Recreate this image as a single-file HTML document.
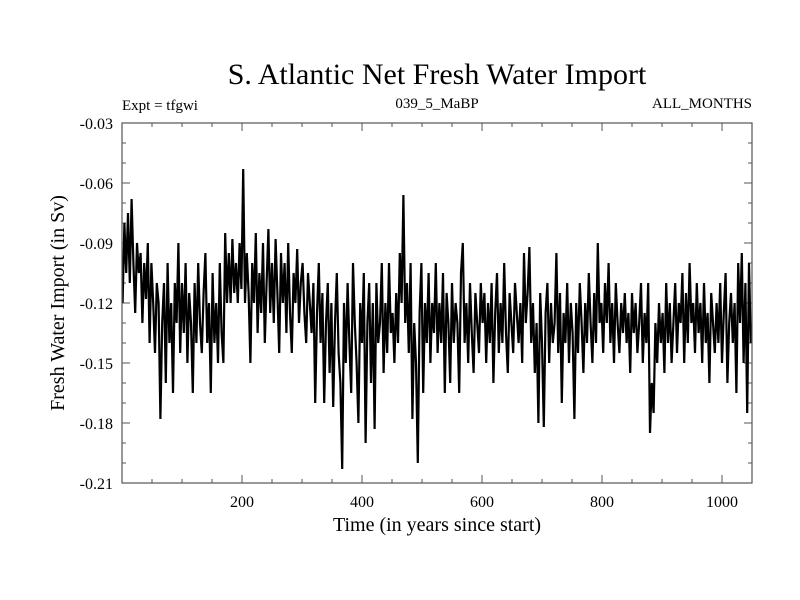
<!DOCTYPE html>
<html><head><meta charset="utf-8"><style>
body{margin:0;background:#fff}
svg{display:block;font-family:"Liberation Serif",serif}
</style></head><body>
<svg id="chart" width="800" height="600">
<text x="437" y="84" font-size="30" text-anchor="middle">S. Atlantic Net Fresh Water Import</text>
<text x="122" y="110" font-size="15">Expt = tfgwi</text>
<text x="437" y="108" font-size="15" text-anchor="middle">039_5_MaBP</text>
<text x="752" y="108" font-size="15" text-anchor="end">ALL_MONTHS</text>
<text x="437" y="531" font-size="20" text-anchor="middle">Time (in years since start)</text>
<text transform="translate(64,303) rotate(-90)" font-size="20" text-anchor="middle">Fresh Water Import (in Sv)</text>
<g id="ticks"></g>
<path id="line" fill="none" stroke="#000" stroke-width="2.2" stroke-linejoin="miter"/>
<rect x="122" y="123" width="630" height="360" fill="none" stroke="#555" stroke-width="1.2"/>
</svg>
<script>
const xTickLabels=[200,400,600,800,1000];
const yTickLabels=[-0.03,-0.06,-0.09,-0.12,-0.15,-0.18,-0.21];
const values=[
-0.12,-0.08,-0.105,-0.075,-0.11,-0.068,-0.1,-0.125,-0.09,-0.105,
-0.095,-0.13,-0.1,-0.118,-0.09,-0.14,-0.1,-0.12,-0.145,-0.11,
-0.12,-0.178,-0.13,-0.11,-0.16,-0.1,-0.14,-0.12,-0.165,-0.11,
-0.13,-0.09,-0.145,-0.11,-0.135,-0.1,-0.15,-0.115,-0.13,-0.165,
-0.11,-0.14,-0.1,-0.13,-0.145,-0.115,-0.095,-0.14,-0.12,-0.165,
-0.105,-0.14,-0.12,-0.15,-0.1,-0.135,-0.15,-0.085,-0.12,-0.095,
-0.12,-0.088,-0.115,-0.1,-0.12,-0.09,-0.113,-0.053,-0.12,-0.095,
-0.115,-0.15,-0.1,-0.12,-0.085,-0.135,-0.105,-0.125,-0.09,-0.14,
-0.11,-0.083,-0.125,-0.1,-0.13,-0.088,-0.115,-0.145,-0.095,-0.12,
-0.1,-0.135,-0.09,-0.125,-0.145,-0.105,-0.12,-0.093,-0.13,-0.11,
-0.1,-0.125,-0.14,-0.105,-0.12,-0.135,-0.11,-0.17,-0.125,-0.1,
-0.14,-0.115,-0.17,-0.13,-0.11,-0.155,-0.12,-0.172,-0.13,-0.105,
-0.145,-0.16,-0.203,-0.12,-0.15,-0.11,-0.14,-0.165,-0.1,-0.13,
-0.15,-0.18,-0.12,-0.14,-0.105,-0.19,-0.13,-0.11,-0.16,-0.12,
-0.183,-0.11,-0.14,-0.13,-0.1,-0.155,-0.12,-0.145,-0.1,-0.135,
-0.125,-0.15,-0.115,-0.14,-0.095,-0.12,-0.066,-0.13,-0.11,-0.145,
-0.1,-0.178,-0.13,-0.15,-0.2,-0.125,-0.1,-0.165,-0.12,-0.14,
-0.105,-0.15,-0.12,-0.135,-0.1,-0.145,-0.12,-0.14,-0.105,-0.165,
-0.115,-0.13,-0.16,-0.11,-0.14,-0.12,-0.13,-0.165,-0.105,-0.09,
-0.14,-0.12,-0.15,-0.11,-0.135,-0.155,-0.115,-0.13,-0.145,-0.11,
-0.13,-0.115,-0.15,-0.12,-0.14,-0.11,-0.16,-0.125,-0.105,-0.145,
-0.12,-0.14,-0.1,-0.135,-0.155,-0.115,-0.13,-0.145,-0.11,-0.125,
-0.14,-0.12,-0.15,-0.095,-0.13,-0.115,-0.092,-0.14,-0.12,-0.155,
-0.13,-0.18,-0.115,-0.14,-0.182,-0.125,-0.11,-0.15,-0.12,-0.14,
-0.13,-0.095,-0.145,-0.115,-0.17,-0.125,-0.14,-0.11,-0.15,-0.12,
-0.135,-0.178,-0.12,-0.145,-0.11,-0.13,-0.155,-0.12,-0.14,-0.105,
-0.13,-0.15,-0.115,-0.14,-0.09,-0.13,-0.12,-0.145,-0.11,-0.13,
-0.1,-0.14,-0.12,-0.15,-0.11,-0.13,-0.145,-0.12,-0.135,-0.115,
-0.14,-0.125,-0.155,-0.115,-0.135,-0.12,-0.145,-0.13,-0.11,-0.15,
-0.125,-0.14,-0.11,-0.185,-0.16,-0.175,-0.13,-0.15,-0.12,-0.14,
-0.125,-0.155,-0.11,-0.14,-0.12,-0.15,-0.13,-0.11,-0.145,-0.12,
-0.13,-0.105,-0.15,-0.115,-0.14,-0.1,-0.13,-0.12,-0.145,-0.11,
-0.135,-0.12,-0.15,-0.11,-0.14,-0.125,-0.16,-0.115,-0.13,-0.145,
-0.12,-0.14,-0.11,-0.15,-0.125,-0.105,-0.16,-0.13,-0.115,-0.14,
-0.12,-0.165,-0.1,-0.13,-0.095,-0.15,-0.11,-0.175,-0.1,-0.14];
const years=values.map((v,i)=>1+i*3);

const X0=122,X1=752,Y0=123,Y1=483,XMIN=0,XMAX=1050,YMIN=-0.21,YMAX=-0.03;
const xs=v=>X0+(v-XMIN)/(XMAX-XMIN)*(X1-X0);
const ys=v=>Y1-(v-YMIN)/(YMAX-YMIN)*(Y1-Y0);
const NS="http://www.w3.org/2000/svg";
const g=document.getElementById('ticks');
function ln(x1,y1,x2,y2,name){const l=document.createElementNS(NS,'line');
l.setAttribute('x1',x1);l.setAttribute('y1',y1);l.setAttribute('x2',x2);l.setAttribute('y2',y2);
l.setAttribute('stroke','#555');l.setAttribute('stroke-width','1');


g.appendChild(l);}
function tx(x,y,s,anchor,name){const t=document.createElementNS(NS,'text');
t.setAttribute('x',x);t.setAttribute('y',y);t.setAttribute('font-size','16');t.setAttribute('text-anchor',anchor);t.textContent=s;


g.appendChild(t);}
for(let v=50;v<XMAX;v+=50){const major=v%200===0;const L=major?8:4;const x=xs(v);
ln(x,Y1,x,Y1-L,'x-tick');ln(x,Y0,x,Y0+L,'x-tick-top');}
xTickLabels.forEach(v=>tx(xs(v),507,String(v),'middle','x-tick-label'));
for(let k=0;k<=18;k++){const v=YMIN+k*0.01;const major=k%3===0;const L=major?8:4;const y=ys(v);
ln(X0,y,X0+L,y,'y-tick');ln(X1,y,X1-L,y,'y-tick-right');}
yTickLabels.forEach(v=>tx(113,ys(v)+6,v.toFixed(2),'end','y-tick-label'));
document.getElementById('line').setAttribute('d',values.map((v,i)=>(i?'L':'M')+xs(years[i]).toFixed(1)+','+ys(v).toFixed(1)).join(''));
</script>
</body></html>
